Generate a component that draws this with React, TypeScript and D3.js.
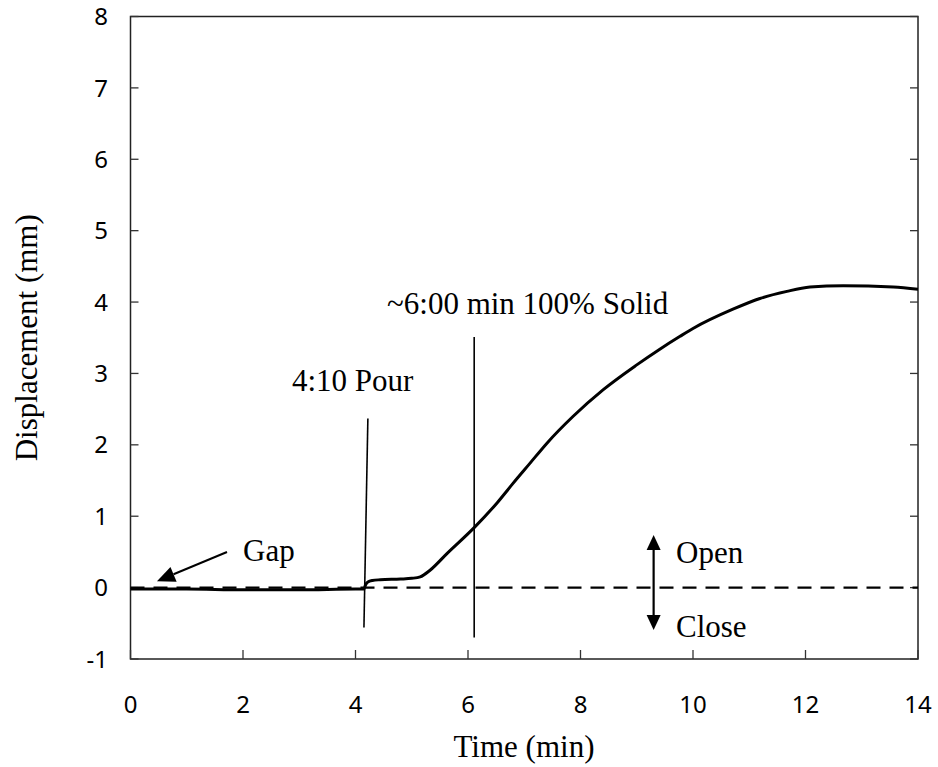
import React from "react";
import * as d3 from "d3";

const timeMin = [0, 0.5, 1, 2, 3, 4, 4.15, 4.18, 4.22, 4.3, 4.44, 4.8, 5.0, 5.15, 5.32, 5.63, 6.11, 6.52, 6.8, 7.1, 7.4, 7.87, 8.4, 9.0, 9.41, 9.77, 10.0, 10.71, 11.19, 11.67, 12.08, 12.67, 13.56, 14];
const displacement = [-0.02, -0.02, -0.02, -0.03, -0.03, -0.02, -0.02, 0.04, 0.08, 0.1, 0.11, 0.12, 0.13, 0.15, 0.24, 0.48, 0.84, 1.19, 1.46, 1.74, 2.02, 2.4, 2.77, 3.12, 3.34, 3.52, 3.63, 3.9, 4.05, 4.15, 4.21, 4.23, 4.21, 4.18];
const xTicks = [0, 2, 4, 6, 8, 10, 12, 14];
const yTicks = [-1, 0, 1, 2, 3, 4, 5, 6, 7, 8];
// annotation lines [x1, y1, x2, y2] in data units
const pourLine = [4.15, -0.56, 4.22, 2.37];
const solidLine = [6.11, -0.7, 6.11, 3.51];

const W = 938, H = 767;
const x = d3.scaleLinear().domain([0, 14]).range([130.5, 918]);
const y = d3.scaleLinear().domain([-1, 8]).range([659, 16.5]);

const serif = "'Liberation Serif', 'Times New Roman', serif";
const sans = "'Noto Sans', 'DejaVu Sans', sans-serif";

export default function App() {
  const line = d3.line<number>().x((_, i) => x(timeMin[i])).y((d) => y(d)).curve(d3.curveMonotoneX);
  const path = line(displacement) || "";
  const x0 = x(0), x1 = x(14), yTop = y(8), yBot = y(-1);
  const tri = (tx: number, ty: number, dir: number) =>
    `M${tx},${ty} L${tx - 7},${ty + dir * 15} L${tx + 7},${ty + dir * 15} Z`;
  // gap arrow
  const gx1 = 227, gy1 = 552, gx2 = x(0.47), gy2 = y(0.09);
  const ang = Math.atan2(gy2 - gy1, gx2 - gx1);
  const hl = 18, hw = 8;
  const bx = gx2 - hl * Math.cos(ang), by = gy2 - hl * Math.sin(ang);
  const px = -Math.sin(ang) * hw, py = Math.cos(ang) * hw;
  const ax = x(9.3);
  return (
    <svg width={W} height={H} style={{ position: "absolute", left: 0, top: 0, background: "#fff" }}>
      {/* frame */}
      <rect x={x0} y={yTop} width={x1 - x0} height={yBot - yTop} fill="none" stroke="#222" strokeWidth={1.5} />
      {/* y ticks */}
      {yTicks.map((t) => (
        <g key={"y" + t}>
          <line x1={x0} x2={x0 + 8} y1={y(t)} y2={y(t)} stroke="#333" strokeWidth={1.3} />
          <line x1={x1} x2={x1 - 8} y1={y(t)} y2={y(t)} stroke="#333" strokeWidth={1.3} />
          <text x={108} y={y(t)} dy="0.36em" textAnchor="end" fontFamily={sans} fontSize={24} fill="#000">{t}</text>
        </g>
      ))}
      {xTicks.map((t) => (
        <g key={"x" + t}>
          <line x1={x(t)} x2={x(t)} y1={yBot} y2={yBot - 9} stroke="#333" strokeWidth={1.3} />
          <text x={x(t)} y={713} textAnchor="middle" fontFamily={sans} fontSize={24} fill="#000">{t}</text>
        </g>
      ))}
      {/* axis titles */}
      <text x={524} y={757} textAnchor="middle" fontFamily={serif} fontSize={31}>Time (min)</text>
      <text transform={`translate(37,${(yTop + yBot) / 2}) rotate(-90)`} textAnchor="middle" fontFamily={serif} fontSize={31}>Displacement (mm)</text>
      {/* zero dashed line */}
      <line x1={x0} x2={x1} y1={y(0)} y2={y(0)} stroke="#000" strokeWidth={2.2} strokeDasharray="14,9" />
      {/* annotation lines */}
      <line x1={x(pourLine[0])} y1={y(pourLine[1])} x2={x(pourLine[2])} y2={y(pourLine[3])} stroke="#000" strokeWidth={1.6} />
      <line x1={x(solidLine[0])} y1={y(solidLine[1])} x2={x(solidLine[2])} y2={y(solidLine[3])} stroke="#000" strokeWidth={1.6} />
      {/* data curve */}
      <path d={path} fill="none" stroke="#000" strokeWidth={3} strokeLinejoin="round" />
      {/* labels */}
      <text x={292} y={391} fontFamily={serif} fontSize={31}>4:10 Pour</text>
      <text x={387} y={314} fontFamily={serif} fontSize={31}>~6:00 min 100% Solid</text>
      <text x={243} y={561} fontFamily={serif} fontSize={31}>Gap</text>
      <text x={676} y={563} fontFamily={serif} fontSize={31}>Open</text>
      <text x={676} y={637} fontFamily={serif} fontSize={31}>Close</text>
      {/* gap arrow */}
      <line x1={gx1} y1={gy1} x2={bx} y2={by} stroke="#000" strokeWidth={2} />
      <path d={`M${gx2},${gy2} L${bx + px},${by + py} L${bx - px},${by - py} Z`} fill="#000" />
      {/* open/close arrow */}
      <line x1={ax} x2={ax} y1={549} y2={616} stroke="#000" strokeWidth={2.2} />
      <path d={tri(ax, 535, 1)} fill="#000" />
      <path d={tri(ax, 630, -1)} fill="#000" />
    </svg>
  );
}
